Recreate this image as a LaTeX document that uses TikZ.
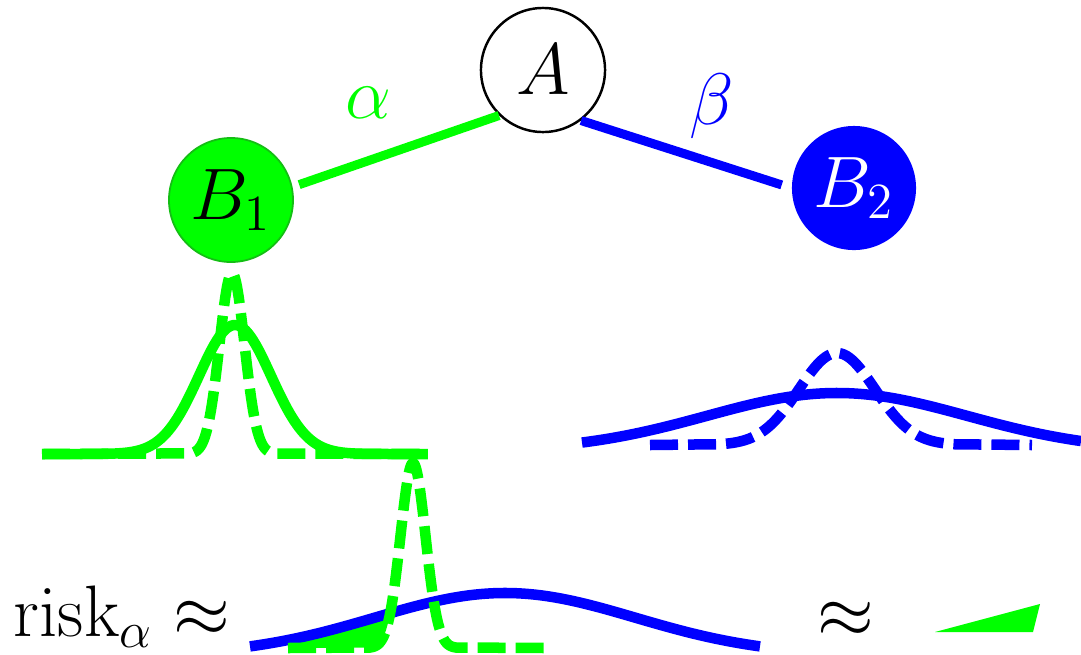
\documentclass[tikz,border=0pt]{standalone}
\usepackage{amsmath,amssymb}
\usepackage{tikz}
\usetikzlibrary{arrows.meta,positioning,calc}
\definecolor{brightgreen}{RGB}{0,255,0}
\definecolor{rimgreen}{RGB}{20,190,20}
\definecolor{pureblue}{RGB}{0,0,255}

\begin{document}
\begin{tikzpicture}[
  x=0.01cm,y=-0.01cm,
  declare function={gauss(\t,\m,\s)=exp(-0.5*((\t-\m)/\s)^2);},
  every node/.style={font=\fontsize{20}{24}\selectfont},
  vertex/.style={circle,minimum size=1.24cm,inner sep=0pt},
  edge/.style={line width=0.09cm},
  curve/.style={line width=0.105cm},
  dcurve/.style={curve,dash pattern=on 0.28cm off 0.1cm}
]
\useasboundingbox (0,0) rectangle (1081,654);
\node[vertex,draw=black,line width=0.7pt,fill=white] (A) at (543,70) {$A$};
\node[vertex,draw=rimgreen,line width=0.5pt,fill=brightgreen] (B1) at (231,200) {$B_1$};
\node[vertex,fill=pureblue,text=white] (B2) at (854,188) {$B_2$};
\draw[edge,brightgreen,shorten <=0.07cm] (B1.12) -- (A.226);
\draw[edge,pureblue,shorten >=0.1cm] (A.-53) -- (B2.west);
\node[text=brightgreen] (alpha) at (368,103) {$\alpha$};
\node[text=pureblue] (beta) at (712,106) {$\beta$};
\draw[curve,brightgreen] plot[domain=42:428,samples=160] (\x,{454-129*gauss(\x,235,36)});
\draw[dcurve,brightgreen] (42,454) -- plot[domain=190:275,samples=90] (\x,{454-181*gauss(\x,232,12.5)}) -- (428,454);
\draw[curve,pureblue] plot[domain=582:1081,samples=160] (\x,{451-58*gauss(\x,837,130)});
\draw[dcurve,pureblue] (650,445) -- plot[domain=720:955,samples=90] (\x,{445-92*gauss(\x,837,38)}) -- (1032,445);
\node[inner sep=0pt] (risk) at (122,617) {$\mathrm{risk}_\alpha \approx$};
\fill[brightgreen] plot[domain=288:390,samples=60] (\x,{655.5-62.5*gauss(\x,505,130)})
  -- plot[domain=390:370,samples=30] (\x,{648-185*gauss(\x,413,12.5)}) -- (288,648) -- cycle;
\draw[curve,pureblue] plot[domain=250:760,samples=160] (\x,{655.5-62.5*gauss(\x,505,130)});
\draw[dcurve,brightgreen] (288,648) -- plot[domain=370:456,samples=90] (\x,{648-185*gauss(\x,413,12.5)}) -- (545,648);
\node (approx) at (846,620) {$\approx$};
\fill[brightgreen] (935,632) -- (1040,604) -- (1033,632) -- cycle;
\end{tikzpicture}
\end{document}
